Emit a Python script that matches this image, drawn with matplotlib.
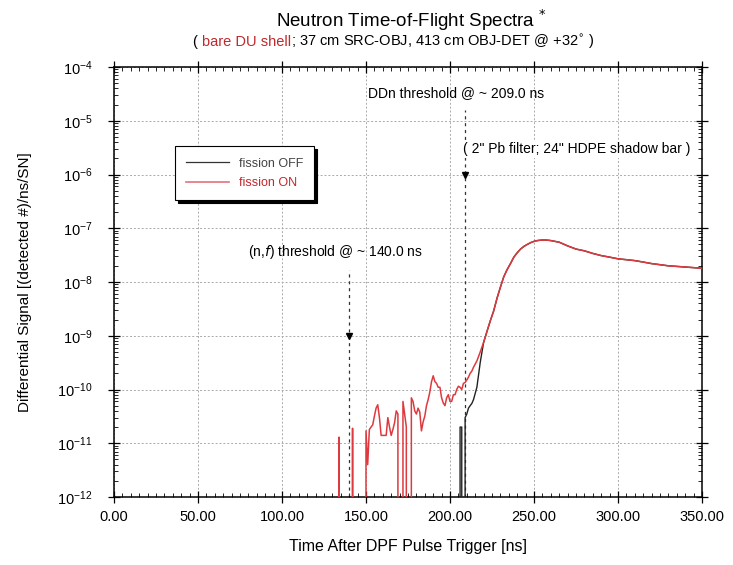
import numpy as np
import matplotlib
matplotlib.use("Agg")
import matplotlib.pyplot as plt
from matplotlib.lines import Line2D
from matplotlib.offsetbox import TextArea, HPacker, AnchoredOffsetbox
from matplotlib.ticker import FixedLocator, MultipleLocator, FormatStrFormatter

plt.rcParams['font.family'] = ['Liberation Sans', 'DejaVu Sans']

# ---------------- data ----------------
t_on = [130, 131, 132, 133, 134, 135, 136, 137, 138, 139, 140, 141, 142, 143, 144,
        145, 146, 147, 148, 149, 150, 151, 152, 153, 154, 155, 156, 157, 158, 159,
        160, 161, 162, 163, 164, 165, 166, 167, 168, 169, 170, 171, 172, 173, 174,
        175, 176, 177, 178, 179, 180, 181, 182, 183, 184, 185, 186, 187, 188, 189,
        190, 191, 192, 193, 194, 195, 196, 197, 198, 199, 200, 201, 202, 203, 204,
        205, 206, 207, 208, 209, 210, 211, 212, 213, 214,
        216, 218, 220, 222, 224, 226, 228, 230, 232, 234, 236, 238, 240, 242, 244,
        246, 248, 250, 252, 254, 256, 258, 260,
        265, 270, 275, 280, 285, 290, 295, 300, 305, 310, 315, 320, 325, 330, 335,
        340, 345, 350]
sig_on = [0, 0, 0, 0, 1.3e-11, 0, 0, 0, 0, 0, 0, 0, 1.9e-11, 0, 0,
          0, 0, 0, 0, 0, 1.7e-11, 4e-12, 1.8e-11, 2.0e-11, 2.2e-11, 3.2e-11, 4.5e-11, 5.2e-11, 3.0e-11, 1.4e-11,
          1.4e-11, 1.4e-11, 1.4e-11, 3.0e-11, 2.0e-11, 1.4e-11, 1.8e-11, 2.4e-11, 4.0e-11, 3.5e-11, 0, 0, 6.0e-11, 3.5e-11, 2.0e-11,
          0, 0, 7.0e-11, 6.0e-11, 4.0e-11, 3.5e-11, 4.5e-11, 3.8e-11, 1.7e-11, 2.5e-11, 3.2e-11, 5.0e-11, 6.5e-11, 9.0e-11, 1.4e-10,
          1.8e-10, 1.4e-10, 1.3e-10, 1.1e-10, 1.1e-10, 7.0e-11, 5.6e-11, 5.0e-11, 7.0e-11, 8.0e-11, 6.0e-11, 6.0e-11, 8.0e-11, 8.0e-11, 1.0e-10,
          1.15e-10, 1.1e-10, 1.0e-10, 1.3e-10, 1.35e-10, 1.5e-10, 1.7e-10, 2.0e-10, 2.2e-10, 2.6e-10,
          3.4e-10, 5.0e-10, 7.5e-10, 1.2e-9, 1.9e-9, 2.9e-9, 5.0e-9, 8.0e-9, 1.25e-8, 1.7e-8, 2.2e-8, 2.9e-8, 3.5e-8, 4.1e-8, 4.6e-8,
          5.0e-8, 5.4e-8, 5.7e-8, 5.9e-8, 6.0e-8, 6.05e-8, 6.0e-8, 5.9e-8,
          5.5e-8, 4.7e-8, 4.1e-8, 3.8e-8, 3.4e-8, 3.1e-8, 2.9e-8, 2.7e-8, 2.6e-8, 2.5e-8, 2.35e-8, 2.2e-8, 2.1e-8, 2.0e-8, 1.95e-8,
          1.9e-8, 1.85e-8, 1.8e-8]

# fission OFF: early part read separately, identical to fission ON from 220 ns on
t_off_early = [200, 201, 202, 203, 204, 205, 206, 207, 208, 209, 210, 211, 212, 213, 214, 216, 218]
sig_off_early = [0, 0, 0, 0, 0, 0, 2.0e-11, 2.0e-11, 0, 3.0e-11, 3.5e-11, 4.5e-11, 5.0e-11, 5.5e-11, 6.5e-11, 1.1e-10, 3.2e-10]
shared_from = t_on.index(220)
t_off = t_off_early + t_on[shared_from:]
sig_off = sig_off_early + sig_on[shared_from:]

thr_t = [140.0, 209.0]
thr_top = [1.7e-8, 1.6e-5]
thr_mark = [1e-9, 1e-6]

x_ticks = [0, 50, 100, 150, 200, 250, 300, 350]
y_ticks = [1e-12, 1e-11, 1e-10, 1e-9, 1e-8, 1e-7, 1e-6, 1e-5, 1e-4]

RED = '#dd3a3f'
TXT_RED = '#c0282d'

# ---------------- figure ----------------
fig = plt.figure(figsize=(7.33, 5.65), dpi=100)
ax = fig.add_axes([114/733, 1-497/565, 588/733, 430/565])
ax.set_yscale('log', nonpositive='clip')
ax.set_xlim(0, 350)
ax.set_ylim(1e-12, 1e-4)

ax.plot(t_off, sig_off, color='#222222', lw=1.0, zorder=3)
ax.plot(t_on, sig_on, color=RED, lw=1.1, zorder=4)

for tx, top, mk in zip(thr_t, thr_top, thr_mark):
    ax.plot([tx, tx], [1e-12, top], color='#333333', lw=0.9, ls=(0, (2.5, 3)), zorder=2)
    ax.plot([tx], [mk], marker='v', color='black', ms=5, zorder=5)

ax.text(80, 3.6e-8, r'(n,$\it{f}$) threshold @ ~ 140.0 ns', fontsize=10, va='center', ha='left')
ax.text(151, 3.3e-5, 'DDn threshold @ ~ 209.0 ns', fontsize=10, va='center', ha='left')
ax.text(207.5, 2.95e-6, '( 2" Pb filter; 24" HDPE shadow bar )', fontsize=10, va='center', ha='left',
        bbox=dict(facecolor='white', edgecolor='none', pad=1.0), zorder=3)

# ticks
ax.xaxis.set_major_locator(FixedLocator(x_ticks))
ax.xaxis.set_minor_locator(MultipleLocator(5))
ax.xaxis.set_major_formatter(FormatStrFormatter('%.2f'))
ax.yaxis.set_major_locator(FixedLocator(y_ticks))
ax.tick_params(which='major', direction='inout', length=9, width=0.9, top=True, right=True, labelsize=10.5, pad=11)
ax.tick_params(which='minor', direction='in', length=3, width=0.6, top=True, right=True)
ax.tick_params(axis='x', which='major', pad=5)
for sp in ax.spines.values():
    sp.set_linewidth(1.1)
ax.grid(True, which='major', color='#aaaaaa', lw=0.7, ls=(0, (2, 2)))
ax.set_axisbelow(True)

ax.set_xlabel('Time After DPF Pulse Trigger [ns]', fontsize=11.5, labelpad=11)
ax.set_ylabel('Differential Signal [(detected #)/ns/SN]', fontsize=11, labelpad=18)

# legend
handles = [Line2D([], [], color='#333333', lw=0.9), Line2D([], [], color='#e8707a', lw=1.2)]
leg = ax.legend(handles, ['fission OFF', 'fission ON'], loc='upper left', bbox_to_anchor=(0.093, 0.83),
                fontsize=9, handlelength=3.4, frameon=True, fancybox=False, borderpad=0.9,
                shadow={'color': 'black', 'alpha': 1.0}, labelspacing=0.6)
leg.get_frame().set_edgecolor('black')
leg.get_frame().set_linewidth(0.8)
leg.get_texts()[0].set_color('#444444')
leg.get_texts()[1].set_color(TXT_RED)

# titles
fig.text(411/733, 1-20/565, r'Neutron Time-of-Flight Spectra $^{*}$', ha='center', va='center', fontsize=13.5)
parts = [TextArea('( ', textprops=dict(fontsize=10.5, color='black')),
         TextArea('bare DU shell', textprops=dict(fontsize=10.5, color=TXT_RED)),
         TextArea('; 37 cm SRC-OBJ, 413 cm OBJ-DET @ +32$^{\\circ}$ )', textprops=dict(fontsize=10.5, color='black'))]
box = HPacker(children=parts, align='baseline', pad=0, sep=0)
anch = AnchoredOffsetbox(loc='center', child=box, frameon=False, pad=0, borderpad=0,
                         bbox_to_anchor=(394/733, 1-42/565), bbox_transform=fig.transFigure)
fig.add_artist(anch)

fig.savefig('out.png', dpi=100)
